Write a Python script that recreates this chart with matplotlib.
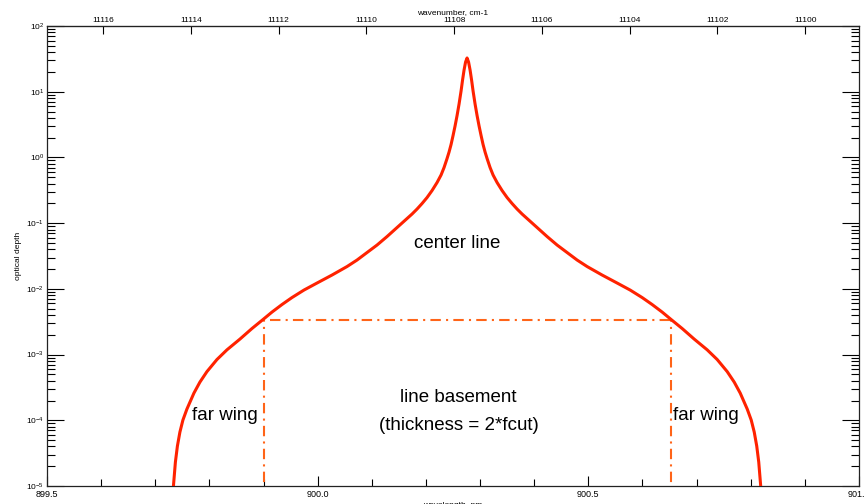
import matplotlib
matplotlib.use("Agg")
import matplotlib.pyplot as plt
import numpy as np
from matplotlib.ticker import FixedLocator, LogLocator, NullFormatter, NullLocator

plt.rcParams['font.family'] = ['Liberation Sans', 'DejaVu Sans']
plt.rcParams['mathtext.fontset'] = 'custom'
plt.rcParams['mathtext.rm'] = 'Liberation Sans'
plt.rcParams['mathtext.it'] = 'Liberation Sans:italic'

# line centre (nm) and digitized half-profile (offset from centre in nm, optical depth);
# the profile in the picture is symmetric about the centre
line_center = 900.276
offset_nm = [0.0, 0.00277, 0.00555, 0.00832, 0.01109, 0.01479, 0.01848, 0.02218,
             0.02588, 0.02957, 0.03327, 0.03697, 0.04251, 0.04806, 0.05545, 0.06470,
             0.07394, 0.08318, 0.09242, 0.10166, 0.11091, 0.12939, 0.14787, 0.16636,
             0.18484, 0.20333, 0.22181, 0.24954, 0.27726, 0.30129, 0.32348, 0.34196,
             0.36044, 0.37708, 0.39741, 0.41959, 0.44362, 0.46211, 0.48059, 0.49353,
             0.50462, 0.51756, 0.52495, 0.53050, 0.53512, 0.53882, 0.54214, 0.54344]
half_depth = [32.6, 28.3, 21.4, 15.1, 10.25, 6.50, 4.34, 3.01,
              2.154, 1.572, 1.208, 0.962, 0.702, 0.540, 0.415, 0.3134,
              0.2453, 0.1988, 0.1639, 0.1376, 0.1175, 0.0857, 0.0625, 0.0464,
              0.0357, 0.02744, 0.02185, 0.01622, 0.01226, 0.00959, 0.00737, 0.00577,
              0.00443, 0.00341, 0.00249, 0.00172, 0.00118, 8.4e-4, 5.5e-4, 3.81e-4,
              2.59e-4, 1.48e-4, 1.007e-4, 6.61e-5, 4.05e-5, 2.31e-5, 1.07e-5, 7.53e-6]

# line cut-off box
cut_left = 899.90
cut_right = 900.652
cut_level = 3.35e-3

top_ticks = [11116, 11114, 11112, 11110, 11108, 11106, 11104, 11102, 11100]

off = np.asarray(offset_nm)
dep = np.asarray(half_depth)
wavelength = np.concatenate([line_center - off[::-1], line_center + off[1:]])
optical_depth = np.concatenate([dep[::-1], dep[1:]])

fig = plt.figure(figsize=(8.64, 5.04), dpi=100)
ax = fig.add_axes([0.0544, 0.0357, 0.9398, 0.9127])

red = '#ff2200'
orange = '#ff6418'

ax.plot(wavelength, optical_depth, color=red, lw=2.2, solid_joinstyle='round', zorder=3)
dash = (0, (5, 2.5, 1, 2.5))
ax.plot([cut_left, cut_left], [1e-6, cut_level], color=orange, lw=1.5, linestyle=dash, zorder=2)
ax.plot([cut_right, cut_right], [1e-6, cut_level], color=orange, lw=1.5, linestyle=dash, zorder=2)
ax.plot([cut_left + 0.012, cut_right], [cut_level, cut_level], color=orange, lw=1.5, linestyle=dash, zorder=2)

ax.set_yscale('log')
ax.set_xlim(899.5, 901.0)
ax.set_ylim(1e-5, 1e2)

ax.xaxis.set_major_locator(FixedLocator([899.5, 900.0, 900.5, 901.0]))
ax.xaxis.set_minor_locator(FixedLocator(np.round(np.arange(899.5, 901.01, 0.1), 2)))
ax.set_xticklabels(['899.5', '900.0', '900.5', '901.0'])
ax.yaxis.set_major_locator(LogLocator(base=10, numticks=20))
ax.yaxis.set_minor_locator(LogLocator(base=10, subs=np.arange(2, 10), numticks=20))
ax.yaxis.set_minor_formatter(NullFormatter())

ax.tick_params(axis='x', which='major', direction='in', length=7, width=0.8, labelsize=6.5, pad=3, top=False)
ax.tick_params(axis='x', which='minor', direction='in', length=5, width=0.8, top=False)
ax.tick_params(axis='y', which='major', direction='in', length=12, width=0.8, labelsize=6, pad=2, right=True)
ax.tick_params(axis='y', which='minor', direction='in', length=6, width=0.8, right=True)

for s in ax.spines.values():
    s.set_linewidth(0.9)
    s.set_color('#222222')

ax.set_ylabel('optical depth', fontsize=6, labelpad=3)
ax.set_xlabel('wavelength, nm', fontsize=6, labelpad=2)

sec = ax.secondary_xaxis('top', functions=(lambda w: 1e7 / np.asarray(w, dtype=float),
                                            lambda k: 1e7 / np.asarray(k, dtype=float)))
sec.xaxis.set_major_locator(FixedLocator(top_ticks))
sec.xaxis.set_minor_locator(NullLocator())
sec.set_xticklabels([str(t) for t in top_ticks])
sec.tick_params(axis='x', which='major', direction='in', length=6, width=0.8, labelsize=6, pad=1.2)
sec.set_xlabel('wavenumber, cm-1', fontsize=6, labelpad=2.5)

fs = 13.5
ax.text(900.258, 0.0498, 'center line', fontsize=fs, ha='center', va='center')
ax.text(900.26, 2.2e-4, 'line basement', fontsize=fs, ha='center', va='center')
ax.text(900.26, 8.2e-5, '(thickness = 2*fcut)', fontsize=fs, ha='center', va='center')
ax.text(899.829, 1.2e-4, 'far wing', fontsize=fs, ha='center', va='center')
ax.text(900.718, 1.2e-4, 'far wing', fontsize=fs, ha='center', va='center')

fig.savefig('out.png', dpi=100)
